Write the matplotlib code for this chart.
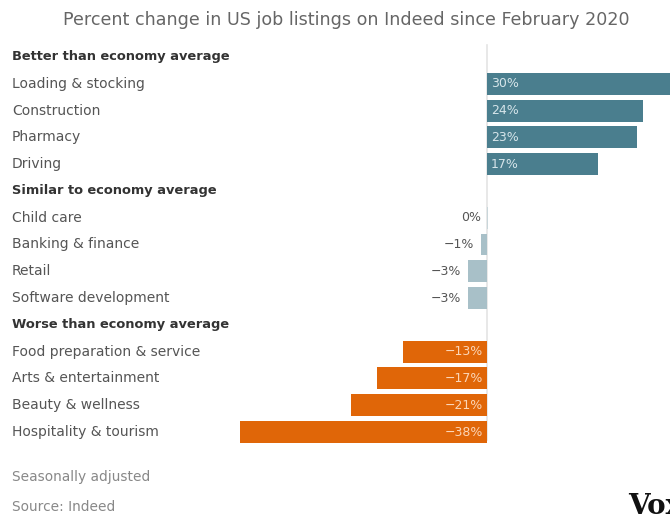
import matplotlib
matplotlib.use("Agg")
import matplotlib.pyplot as plt

plt.rcParams['font.family'] = ['DejaVu Sans']

title = "Percent change in US job listings on Indeed since February 2020"

groups = ["Better than economy average",
          "Similar to economy average",
          "Worse than economy average"]
better_labels = ["Loading & stocking", "Construction", "Pharmacy", "Driving"]
better_values = [30, 24, 23, 17]
similar_labels = ["Child care", "Banking & finance", "Retail", "Software development"]
similar_values = [0, -1, -3, -3]
worse_labels = ["Food preparation & service", "Arts & entertainment",
                "Beauty & wellness", "Hospitality & tourism"]
worse_values = [-13, -17, -21, -38]

colors = {"better": "#4a7e8e", "similar": "#a8c0c8", "worse": "#e06608"}
text_gray = "#555555"

W, H = 670, 514
fig = plt.figure(figsize=(W / 100, H / 100), dpi=100)

# axes spans the full width; zero sits at x=487px, 6.5px per percentage point
px_per_pt = 6.5
zero_px = 487
ax = fig.add_axes([0, (H - 445.4) / H, 1, 401.8 / H])
ax.set_xlim(-zero_px / px_per_pt, (W - zero_px) / px_per_pt)
ax.set_ylim(14.5, -0.5)
ax.axis("off")

ax.plot([0, 0], [-0.45, 14.3], color="#e4e4e4", lw=1.2, zorder=1)

sections = [
    (groups[0], better_labels, better_values, "better"),
    (groups[1], similar_labels, similar_values, "similar"),
    (groups[2], worse_labels, worse_values, "worse"),
]


def row_label(text, y, **kw):
    ax.annotate(text, xy=(0, y), xycoords=("figure fraction", "data"),
                xytext=(12, 0), textcoords="offset pixels",
                va="center", ha="left", **kw)


row = 0
for header, labels, values, key in sections:
    row_label(header, row, fontsize=9.4, fontweight="bold", color="#333333")
    row += 1
    for lab, v in zip(labels, values):
        row_label(lab, row, fontsize=10, color=text_gray)
        c = colors[key]
        if v == 0:
            ax.barh(row, 0.15, height=0.82, color="#c9d6da", zorder=2)
        else:
            ax.barh(row, v, height=0.82, color=c, lw=0, zorder=2)
        txt = f"{v}%" if v >= 0 else f"\u2212{abs(v)}%"
        if key == "better":
            ax.annotate(txt, xy=(0, row), xytext=(4, 0), textcoords="offset pixels",
                        fontsize=9, color="#d6e5ea", va="center", ha="left", zorder=3)
        elif key == "worse":
            ax.annotate(txt, xy=(0, row), xytext=(-4, 0), textcoords="offset pixels",
                        fontsize=9, color="#fbd6b8", va="center", ha="right", zorder=3)
        else:
            ax.annotate(txt, xy=(min(v, 0), row), xytext=(-6, 0), textcoords="offset pixels",
                        fontsize=9, color=text_gray, va="center", ha="right", zorder=3)
        row += 1

fig.text(346 / W, 1 - 20 / H, title, ha="center", va="center", fontsize=12.6, color="#666666")
fig.text(12 / W, 1 - 477 / H, "Seasonally adjusted", ha="left", va="center",
         fontsize=9.9, color="#888888")
fig.text(12 / W, 1 - 507 / H, "Source: Indeed", ha="left", va="center",
         fontsize=9.9, color="#888888")
fig.text(628 / W, 1 - 507 / H, "Vox", ha="left", va="center", fontsize=20,
         fontweight="bold", family=["DejaVu Serif"], color="#111111")

fig.savefig("out.png", dpi=100, facecolor="white")
